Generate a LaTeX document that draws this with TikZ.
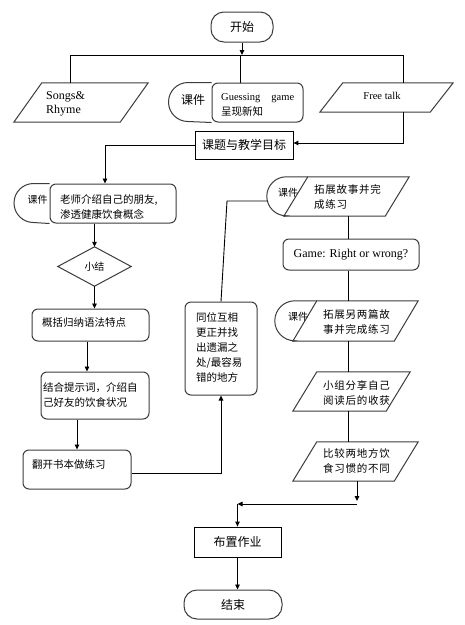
\documentclass[tikz,border=0pt]{standalone}
\usepackage{fontspec}
\setmainfont{Noto Sans CJK SC}
\newfontfamily\en{Liberation Serif}
\newfontfamily\cjksp[LetterSpace=7]{Noto Sans CJK SC}
\usetikzlibrary{arrows.meta,calc}
\definecolor{edge}{HTML}{3C3C3C}
\tikzset{
 shp/.style={draw=edge,line width=1pt},
 conn/.style={draw=black,line width=0.9pt},
 arr/.style={conn,-{Triangle[length=5pt,width=4.5pt]}},
 sz/.style 2 args={minimum width=#1pt,minimum height=#2pt},
 rbox/.style={shp,rounded corners=6pt,inner sep=0pt},
 pbox/.style={inner sep=0pt},
 tbox/.style={draw=black,line width=0.8pt,inner sep=0pt,font=\fontsize{12}{14}\selectfont},
 term/.style={shp,rounded corners=13pt,inner sep=0pt,font=\fontsize{12}{14}\selectfont},
 lbl/.style={inner sep=0pt,font=\fontsize{10}{12}\selectfont},
 txt/.style={inner sep=0pt,align=left,anchor=west,font=\fontsize{10.5}{15}\selectfont},
 txs/.style={txt,font=\cjksp\fontsize{10.5}{15}\selectfont}
}
\newcommand\drawpara[2]{\draw[shp] ([xshift=#2]#1.north west) -- (#1.north east) -- ([xshift=-#2]#1.south east) -- (#1.south west) -- cycle;}
\begin{document}
\begin{tikzpicture}[x=1pt,y=1pt]
\useasboundingbox[fill=white] (0,0) rectangle (465,-625);

% start
\node[term, sz={62}{30}] (start) at (242,-27) {开始};
\coordinate (barL) at (70,-55);
\coordinate (barM) at (240,-55);
\coordinate (barR) at (403,-55);
\draw[arr] (start.south) -- (start.south |- barM);
\draw[conn] (barL) -- (barR);

% songs
\node[pbox, sz={134}{39}] (songs) at (81,-102.5) {};
\drawpara{songs}{28pt}
\node[txt, font=\en\fontsize{12}{14}\selectfont] (songsT) at (46,-104) {Songs\&\\Rhyme};

% courseware 1
\node[rbox, sz={91}{39}] (kj1) at (257.5,-102.5) {};
\draw[shp] (kj1.north west) -- ++(-23.5,0) arc[start angle=90,end angle=270,radius=19.5] -- (kj1.south west);
\node[lbl, font=\fontsize{12}{14}\selectfont] (kj1L) at (193,-100) {课件};
\node[txt, text width=73pt] (kj1T) at (221,-105) {{\en Guessing\hfill game}\\呈现新知};

% free talk
\node[pbox, sz={133}{29}] (ft) at (386.5,-97.5) {};
\drawpara{ft}{23pt}
\node[inner sep=0pt, font=\en\fontsize{10.5}{12}\selectfont] (ftT) at (382,-96) {Free talk};

\draw[conn] (barL) -- (barL |- songs.north);
\draw[conn] (barM) -- (barM |- kj1.north);
\draw[conn] (barR) -- (barR |- ft.north);

% topic box
\node[tbox, sz={98}{28}] (ktmb) at (244,-145) {课题与教学目标};
\coordinate (ftc) at (403,-143);
\draw[arr] (barR |- ft.south) -- (ftc) -- (ftc -| ktmb.east);

% teacher intro
\coordinate (lsin) at (105,-145);
\node[rbox, sz={126}{39}] (ls) at (113,-203.5) {};
\draw[shp] (ls.north west) -- ++(-16,0) arc[start angle=90,end angle=270,radius=19.5] -- (ls.south west);
\node[lbl] (lsL) at (37.5,-200) {课件};
\node[txt] (lsT) at (60,-206.5) {老师介绍自己的朋友,\\渗透健康饮食概念};
\draw[arr] (ktmb.west) -- (lsin) -- (lsin |- ls.north);

% summary diamond
\node[pbox, sz={73}{39}, font=\fontsize{10}{12}\selectfont] (xj) at (94.5,-266.5) {小结};
\draw[shp] (xj.north) -- (xj.east) -- (xj.south) -- (xj.west) -- cycle;
\draw[arr] (xj.north |- ls.south) -- (xj.north);

% grammar
\node[rbox, sz={117}{32}] (gk) at (90.5,-325) {};
\node[txt] (gkT) at (42,-323) {概括归纳语法特点};
\draw[arr] (xj.south) -- (xj.south |- gk.north);

% combine
\node[rbox, sz={108}{47}] (jh) at (95,-395.5) {};
\node[txt] (jhT) at (43,-394.5) {结合提示词，介绍自\\己好友的饮食状况};
\draw[arr] ([xshift=-3.5pt]gk.south) -- ([xshift=-3.5pt]gk.south |- jh.north);

% exercise
\node[rbox, sz={108}{39}] (fk) at (77,-469.5) {};
\node[txt] (fkT) at (32,-464) {翻开书本做练习};
\draw[arr] (fk.north |- jh.south) -- (fk.north);

% peer check
\node[rbox, sz={72}{93}] (tw) at (221,-348.5) {};
\node[txt] (twT) at (196,-347) {同位互相\\更正并找\\出遗漏之\\处/最容易\\错的地方};
\draw[arr] ([yshift=-3.5pt]fk.east) -- ([yshift=-3.5pt]fk.east -| tw.south) -- (tw.south);

% extend story
\node[pbox, sz={125}{39}] (tz1) at (346.5,-196.5) {};
\drawpara{tz1}{24pt}
\draw[shp] ([xshift=24pt]tz1.north west) -- ([xshift=2.5pt]tz1.north west) arc[start angle=90,end angle=270,radius=19.5] -- (tz1.south west);
\node[lbl] (tz1L) at (288,-193) {课件};
\node[txs] (tz1T) at (314,-196.5) {拓展故事并完\\成练习};
\coordinate (tz1D) at (267.5,-201);
\coordinate (twk) at (227,-201);
\draw[conn] (tw.north) -- (twk) -- (tz1D);

% game
\node[rbox, sz={136}{31}, font=\en\fontsize{12}{14}\selectfont] (game) at (351,-254.5) {Game: Right or wrong?};
\coordinate (colx) at (348,0);
\draw[conn] (colx |- tz1.south) -- (colx |- game.north);

% extend two stories
\node[pbox, sz={125}{40}] (tz2) at (355.5,-321) {};
\drawpara{tz2}{24pt}
\draw[shp] ([xshift=24pt]tz2.north west) -- ([xshift=2pt]tz2.north west) arc[start angle=90,end angle=270,radius=20] -- (tz2.south west);
\node[lbl] (tz2L) at (298,-317) {课件};
\node[txs] (tz2T) at (323,-322.5) {拓展另两篇故\\事并完成练习};
\draw[conn] (colx |- game.south) -- (colx |- tz2.north);

% group share
\node[pbox, sz={117}{39}] (xz) at (351.5,-391.5) {};
\drawpara{xz}{24pt}
\node[txs] (xzT) at (323,-392.5) {小组分享自己\\阅读后的收获};
\draw[conn] (colx |- tz2.south) -- (colx |- xz.north);

% compare
\node[pbox, sz={125}{39}] (bj) at (355.5,-461.5) {};
\drawpara{bj}{24pt}
\node[txs] (bjT) at (323,-461) {比较两地方饮\\食习惯的不同};
\draw[conn] (colx |- xz.south) -- (colx |- bj.north);

% homework
\node[tbox, sz={87}{30}] (bz) at (237.5,-542) {布置作业};
\coordinate (bjo) at (357,-501);
\coordinate (mrg) at (357,-504);
\draw[arr] (bjo |- bj.south) -- (bjo);
\draw[arr] (mrg) -- (mrg -| bz.north);
\draw[arr] (mrg -| bz.north) -- (bz.north);

% end
\node[term, sz={98}{29}] (stop) at (233,-604.5) {结束};
\draw[arr] (bz.south) -- (bz.south |- stop.north);
\end{tikzpicture}
\end{document}
